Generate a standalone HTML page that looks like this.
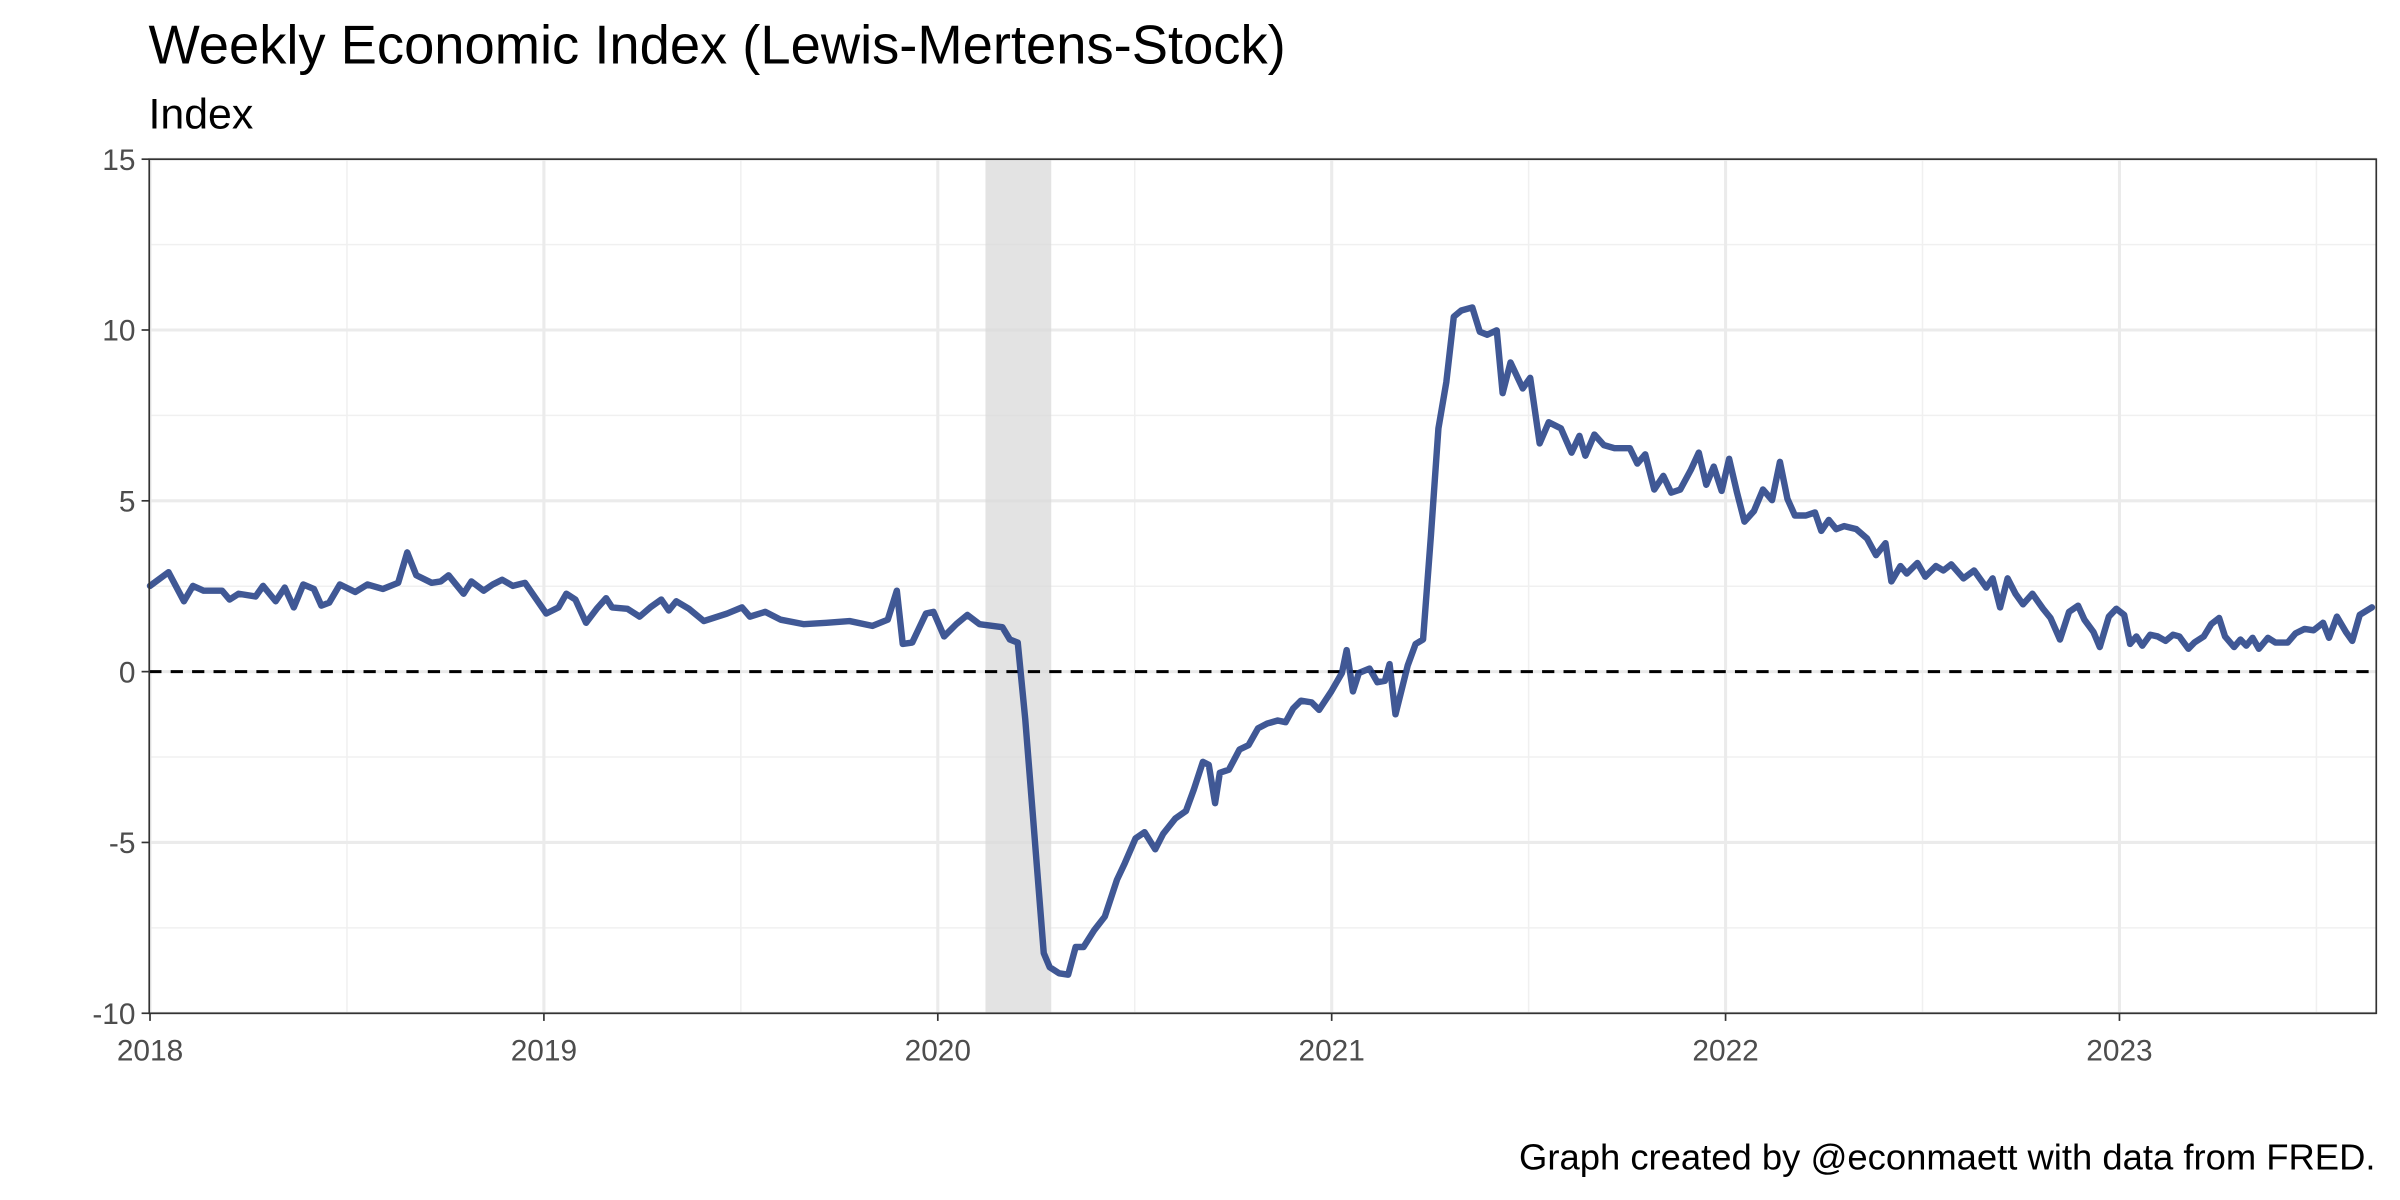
<!DOCTYPE html>
<html><head><meta charset="utf-8">
<style>
html,body{margin:0;padding:0;background:#fff;}
svg{display:block;font-family:"Liberation Sans",Arial,sans-serif;}
</style></head>
<body>
<svg id="chart" width="2400" height="1200" viewBox="0 0 1568 784" xmlns="http://www.w3.org/2000/svg">
<rect width="1568" height="784" fill="#fff"/>
<text x="97" y="41.5" font-size="35.5" fill="#000">Weekly Economic Index (Lewis-Mertens-Stock)</text>
<text x="97" y="84" font-size="28" fill="#000">Index</text>
<text x="1552" y="764" font-size="23.8" text-anchor="end" fill="#000">Graph created by @econmaett with data from FRED.</text>
<g id="grid"></g>
<g id="marks"></g>
<rect x="97.5" y="104" width="1455" height="558" fill="none" stroke="#333" stroke-width="1.1"/>
<g id="axes"></g>
</svg>
<script>
const yearOffsets=[0.000,0.047,0.086,0.109,0.136,0.183,0.202,0.225,0.268,0.287,0.319,0.342,0.365,0.389,0.416,0.435,0.455,0.482,0.521,0.552,0.591,0.630,0.653,0.676,0.715,0.738,0.758,0.796,0.816,0.847,0.870,0.894,0.921,0.952,0.979,1.006,1.037,1.057,1.080,1.107,1.134,1.158,1.173,1.212,1.243,1.270,1.298,1.317,1.336,1.368,1.406,1.465,1.503,1.523,1.562,1.601,1.659,1.717,1.776,1.834,1.873,1.896,1.911,1.935,1.970,1.989,2.016,2.047,2.075,2.106,2.164,2.183,2.203,2.222,2.242,2.269,2.284,2.308,2.331,2.350,2.370,2.397,2.424,2.455,2.475,2.502,2.525,2.552,2.572,2.603,2.630,2.650,2.673,2.688,2.704,2.716,2.739,2.766,2.789,2.813,2.836,2.863,2.883,2.902,2.922,2.949,2.968,2.999,3.026,3.038,3.054,3.069,3.096,3.116,3.135,3.147,3.162,3.193,3.213,3.232,3.252,3.271,3.291,3.310,3.329,3.357,3.376,3.395,3.419,3.434,3.454,3.485,3.504,3.528,3.551,3.582,3.609,3.629,3.644,3.667,3.691,3.718,3.757,3.776,3.796,3.819,3.842,3.862,3.885,3.912,3.932,3.951,3.970,3.990,4.009,4.029,4.048,4.072,4.095,4.118,4.138,4.157,4.176,4.204,4.227,4.243,4.262,4.281,4.301,4.332,4.359,4.382,4.406,4.421,4.444,4.460,4.487,4.507,4.534,4.553,4.573,4.604,4.631,4.662,4.678,4.697,4.716,4.736,4.755,4.779,4.806,4.825,4.849,4.872,4.895,4.911,4.934,4.950,4.973,4.992,5.012,5.027,5.043,5.058,5.078,5.097,5.117,5.136,5.152,5.175,5.190,5.214,5.233,5.253,5.268,5.291,5.307,5.322,5.338,5.354,5.377,5.396,5.427,5.447,5.470,5.493,5.517,5.532,5.552,5.575,5.591,5.610,5.641];
const weiValues=[2.51,2.91,2.06,2.51,2.37,2.37,2.11,2.28,2.20,2.51,2.06,2.46,1.88,2.55,2.42,1.93,2.02,2.55,2.33,2.55,2.42,2.60,3.49,2.82,2.60,2.64,2.82,2.28,2.64,2.37,2.55,2.69,2.51,2.60,2.15,1.70,1.88,2.28,2.11,1.43,1.84,2.15,1.88,1.84,1.61,1.88,2.11,1.79,2.06,1.84,1.48,1.70,1.88,1.61,1.75,1.52,1.39,1.43,1.48,1.34,1.52,2.37,0.81,0.85,1.70,1.75,1.03,1.39,1.66,1.39,1.30,0.94,0.85,-1.39,-4.30,-8.24,-8.65,-8.83,-8.87,-8.06,-8.06,-7.57,-7.17,-6.09,-5.60,-4.88,-4.70,-5.20,-4.75,-4.30,-4.08,-3.45,-2.64,-2.73,-3.85,-2.96,-2.87,-2.28,-2.15,-1.66,-1.52,-1.43,-1.48,-1.08,-0.85,-0.90,-1.12,-0.58,-0.04,0.63,-0.58,-0.04,0.09,-0.31,-0.27,0.22,-1.25,0.18,0.81,0.94,3.99,7.12,8.47,10.39,10.57,10.66,9.95,9.86,9.99,8.15,9.05,8.29,8.60,6.68,7.30,7.12,6.41,6.90,6.32,6.94,6.63,6.54,6.54,6.09,6.36,5.33,5.73,5.24,5.33,5.91,6.41,5.47,6.00,5.29,6.23,5.24,4.39,4.70,5.33,5.02,6.14,5.06,4.57,4.57,4.66,4.12,4.44,4.17,4.26,4.17,3.90,3.41,3.76,2.64,3.09,2.87,3.18,2.78,3.09,2.96,3.14,2.73,2.96,2.46,2.73,1.88,2.73,2.28,1.97,2.28,1.84,1.57,0.94,1.75,1.93,1.52,1.16,0.72,1.61,1.84,1.66,0.81,1.03,0.76,1.08,1.03,0.90,1.08,1.03,0.67,0.85,1.03,1.39,1.57,1.03,0.72,0.94,0.76,0.99,0.67,0.99,0.85,0.85,1.12,1.25,1.21,1.43,0.99,1.61,1.16,0.90,1.66,1.88];
const yTicks=[-10,-5,0,5,10,15];
const yTickLabels=["-10","-5","0","5","10","15"];
const xTicks=[2018,2019,2020,2021,2022,2023];
const xTickLabels=["2018","2019","2020","2021","2022","2023"];
const recessionStart=2020.121, recessionEnd=2020.288;

const NS="http://www.w3.org/2000/svg";
const X0=97.5,X1=1552.5,Y0=104,Y1=662;
const xMin=2017.998,xMax=2023.652,yMin=-10,yMax=15;
const xs=v=>X0+(v-xMin)/(xMax-xMin)*(X1-X0);
const ys=v=>Y1-(v-yMin)/(yMax-yMin)*(Y1-Y0);
function mk(tag,attrs,parent){const e=document.createElementNS(NS,tag);for(const k in attrs)e.setAttribute(k,attrs[k]);parent.appendChild(e);return e;}
const grid=document.getElementById('grid'),marks=document.getElementById('marks'),axes=document.getElementById('axes');

for(let i=0;i<yTicks.length-1;i++){const m=(yTicks[i]+yTicks[i+1])/2;
 const l=mk('line',{x1:X0,x2:X1,y1:ys(m),y2:ys(m),stroke:'#f0f0f0','stroke-width':1},grid);
 
 }
for(let i=0;i<xTicks.length;i++){const m=xTicks[i]+0.5; if(xs(m)>X1)continue;
 const l=mk('line',{x1:xs(m),x2:xs(m),y1:Y0,y2:Y1,stroke:'#f0f0f0','stroke-width':1},grid);
 
 }
yTicks.forEach((t,i)=>{const y=ys(t);
 const l=mk('line',{x1:X0,x2:X1,y1:y,y2:y,stroke:'#ebebeb','stroke-width':2},grid);
 
 
 const tk=mk('line',{x1:X0-5,x2:X0,y1:y,y2:y,stroke:'#333','stroke-width':1.1},axes);
 
 
 const tx=mk('text',{x:X0-9,y:y+7,'font-size':19.5,'text-anchor':'end',fill:'#4d4d4d'},axes);
 tx.textContent=yTickLabels[i];
 
 });
xTicks.forEach((t,i)=>{const x=xs(t);
 const l=mk('line',{x1:x,x2:x,y1:Y0,y2:Y1,stroke:'#ebebeb','stroke-width':2},grid);
 
 
 const tk=mk('line',{x1:x,x2:x,y1:Y1,y2:Y1+5,stroke:'#333','stroke-width':1.1},axes);
 
 
 const tx=mk('text',{x:x,y:Y1+31,'font-size':19.5,'text-anchor':'middle',fill:'#4d4d4d'},axes);
 tx.textContent=xTickLabels[i];
 
 });
const rec=mk('rect',{x:xs(recessionStart),y:Y0,width:xs(recessionEnd)-xs(recessionStart),height:Y1-Y0,fill:'#d9d9d9','fill-opacity':0.75},marks);


const z=mk('line',{x1:X0,x2:X1,y1:ys(0),y2:ys(0),stroke:'#000','stroke-width':2,'stroke-dasharray':'8,6'},marks);


const pts=yearOffsets.map((o,i)=>xs(2018+o).toFixed(2)+','+ys(weiValues[i]).toFixed(2)).join(' ');
const pl=mk('polyline',{points:pts,fill:'none',stroke:'#1f3b82','stroke-opacity':0.85,'stroke-width':4.2,'stroke-linejoin':'round','stroke-linecap':'round'},marks);


</script>
</body></html>
